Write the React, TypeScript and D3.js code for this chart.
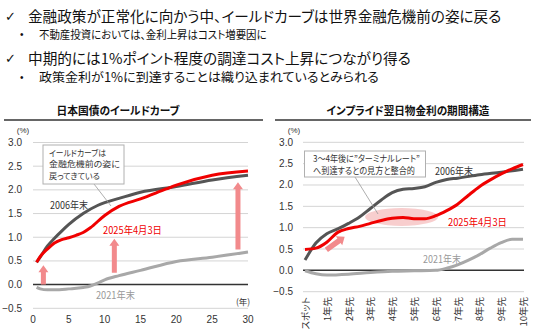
import React, { useLayoutEffect, useRef, useState } from 'react';
import * as d3 from 'd3';

// ---------- DATA ----------
const headerMain1 = '金融政策が正常化に向かう中、イールドカーブは世界金融危機前の姿に戻る';
const headerSub1 = '不動産投資においては、金利上昇はコスト増要因に';
const headerMain2 = '中期的には1%ポイント程度の調達コスト上昇につながり得る';
const headerSub2 = '政策金利が1%に到達することは織り込まれているとみられる';

const leftTitle = '日本国債のイールドカーブ';
const rightTitle = 'インプライド翌日物金利の期間構造';

const yTicks = [-0.5, 0, 0.5, 1.0, 1.5, 2.0, 2.5, 3.0];
const leftXTicks = [0, 5, 10, 15, 20, 25, 30];
const rightCategories = ['スポット', '1年先', '2年先', '3年先', '4年先', '5年先', '6年先', '7年先', '8年先', '9年先', '10年先'];

// JGB yield curve: [maturity (years), yield %]
const jgb2006: [number, number][] = [
  [0.5, 0.47], [1, 0.58], [2, 0.81], [3, 0.98], [4, 1.13], [5, 1.27], [7, 1.5], [9, 1.67], [10, 1.73],
  [12, 1.82], [15, 1.95], [20, 2.07], [25, 2.21], [30, 2.31],
];
const jgb2025: [number, number][] = [
  [0.5, 0.47], [1, 0.59], [2, 0.75], [3, 0.88], [4, 0.95], [5, 0.99], [6, 1.04], [7, 1.1], [8, 1.2],
  [10, 1.46], [12, 1.65], [15, 1.81], [18.6, 2.02], [20, 2.1], [25, 2.31], [30, 2.4],
];
const jgb2021: [number, number][] = [
  [0.5, -0.06], [1, -0.09], [2, -0.11], [3, -0.11], [5, -0.09], [7, -0.06], [8, -0.03], [9, 0.03],
  [10, 0.1], [12, 0.19], [15, 0.3], [20, 0.49], [25, 0.58], [30, 0.69],
];

// Implied overnight rate: [years forward, rate %]
const ois2006: [number, number][] = [
  [0, 0.24], [0.5, 0.64], [1, 0.86], [1.5, 0.97], [2, 1.1], [2.5, 1.25], [3, 1.45], [3.5, 1.65], [4, 1.82],
  [4.5, 1.9], [5, 1.92], [5.5, 1.96], [6, 2.06], [6.5, 2.13], [7, 2.16], [8, 2.24], [9, 2.3], [10, 2.37],
];
const ois2025: [number, number][] = [
  [0, 0.49], [0.5, 0.52], [1, 0.66], [1.5, 0.89], [2, 0.98], [2.5, 1.03], [3, 1.1], [3.5, 1.17], [4, 1.22],
  [4.5, 1.24], [5, 1.21], [5.5, 1.21], [6, 1.28], [6.5, 1.4], [7, 1.55], [7.5, 1.76], [8, 1.96],
  [8.5, 2.12], [9, 2.26], [9.5, 2.38], [10, 2.48],
];
const ois2021: [number, number][] = [
  [0, -0.01], [0.5, -0.08], [1, -0.11], [2, -0.09], [3, -0.05], [4, -0.02], [5, -0.01], [6, 0.0],
  [6.5, 0.05], [7, 0.13], [7.5, 0.24], [8, 0.37], [8.5, 0.52], [9, 0.65], [9.5, 0.73], [10, 0.73],
];

// annotation arrows (data units): x, from, to
const leftArrows = [
  { x: 1.45, from: 0.0, to: 0.41 },
  { x: 11.35, from: 0.25, to: 0.97 },
  { x: 28.6, from: 0.74, to: 2.16 },
];
const rightArrow = { x0: 0.98, y0: 0.48, x1: 1.82, y1: 0.79 };

const seriesLabels = { s2006: '2006年末', s2025: '2025年4月3日', s2021: '2021年末' };
const leftCallout = ['イールドカーブは', '金融危機前の姿に', '戻ってきている'];
const rightCallout = ['3～4年後に”ターミナルレート”', 'へ到達するとの見方と整合的'];

// ---------- STYLE ----------
const JP = '"Noto Sans CJK JP", "Noto Sans", sans-serif';
const NUM = '"Liberation Sans", Arial, sans-serif';
const C_DARK = '#555555';
const C_RED = '#f00000';
const C_LIGHT = '#a8a8a8';
const C_ARROW = '#f28a8c';
const C_GRID = '#d4d4d4';
const palt = { fontFeatureSettings: '"palt"' } as React.CSSProperties;

// text that is horizontally fitted to a measured width
function FitText(props: {
  x: number; y: number; width: number; size: number; fill?: string; weight?: string | number;
  anchor?: 'start' | 'middle'; children: string;
}) {
  const ref = useRef<SVGTextElement>(null);
  const [s, setS] = useState(1);
  useLayoutEffect(() => {
    const el = ref.current;
    if (el) {
      const w = el.getComputedTextLength();
      if (w > 0) setS(props.width / w);
    }
  }, [props.width, props.children]);
  return (
    <text
      ref={ref}
      transform={`translate(${props.x},${props.y}) scale(${s},1)`}
      fontFamily={JP}
      fontSize={props.size}
      fontWeight={props.weight || 'normal'}
      fill={props.fill || '#111'}
      textAnchor={props.anchor || 'start'}
      dominantBaseline="central"
      style={palt}
    >
      {props.children}
    </text>
  );
}

function arrowPath(x1: number, y1: number, x2: number, y2: number, sw = 5, hw = 10, hl = 7) {
  const dx = x2 - x1, dy = y2 - y1;
  const len = Math.hypot(dx, dy);
  const ux = dx / len, uy = dy / len;
  const nx = -uy, ny = ux;
  const bx = x2 - ux * hl, by = y2 - uy * hl;
  const p = [
    [x1 + nx * sw / 2, y1 + ny * sw / 2],
    [bx + nx * sw / 2, by + ny * sw / 2],
    [bx + nx * hw / 2, by + ny * hw / 2],
    [x2, y2],
    [bx - nx * hw / 2, by - ny * hw / 2],
    [bx - nx * sw / 2, by - ny * sw / 2],
    [x1 - nx * sw / 2, y1 - ny * sw / 2],
  ];
  return 'M' + p.map((q) => q.join(',')).join('L') + 'Z';
}

export default function App() {
  const xL = d3.scaleLinear().domain([0, 30]).range([33, 248]);
  const yL = d3.scaleLinear().domain([-0.5, 3]).range([308.3, 142.5]);
  const xR = d3.scaleLinear().domain([0, 10]).range([305, 523]);
  const xCat = d3.scalePoint<string>().domain(rightCategories).range([305, 523]);
  const yR = d3.scaleLinear().domain([-0.5, 3]).range([291.7, 142.3]);

  const lineL = d3.line<[number, number]>().x((d) => xL(d[0])).y((d) => yL(d[1])).curve(d3.curveMonotoneX);
  const lineR = d3.line<[number, number]>().x((d) => xR(d[0])).y((d) => yR(d[1])).curve(d3.curveMonotoneX);

  const fmt = d3.format('.1f');

  return (
    <svg width={536} height={330} style={{ position: 'absolute', left: 0, top: 0, background: '#fff' }}>
      {/* header */}
      <text x={5} y={16} fontSize={13} dominantBaseline="central" fontFamily={NUM} fill="#111">✓</text>
      <FitText x={28} y={16} width={474} size={14.5}>{headerMain1}</FitText>
      <text x={20} y={34} fontSize={10} dominantBaseline="central" fontFamily={NUM} fill="#111">•</text>
      <FitText x={39} y={34} width={228} size={11.5}>{headerSub1}</FitText>
      <text x={5} y={58} fontSize={13} dominantBaseline="central" fontFamily={NUM} fill="#111">✓</text>
      <FitText x={28} y={58} width={383} size={14.5}>{headerMain2}</FitText>
      <text x={20} y={77} fontSize={10} dominantBaseline="central" fontFamily={NUM} fill="#111">•</text>
      <FitText x={39} y={77} width={340} size={12.5}>{headerSub2}</FitText>

      {/* ===== LEFT CHART ===== */}
      <FitText x={118} y={110} width={123} size={11} weight="bold" anchor="middle">{leftTitle}</FitText>
      <line x1={4} x2={263} y1={120} y2={120} stroke="#333" strokeWidth={1.5} />
      <text x={23} y={130.5} fontFamily={NUM} fontSize={8} textAnchor="middle" dominantBaseline="central" fill="#333">(%)</text>
      {yTicks.map((t) => (
        <g key={'lg' + t}>
          <line x1={33} x2={248} y1={yL(t)} y2={yL(t)} stroke={t === 0 ? '#333' : C_GRID} strokeWidth={t === 0 ? 1.5 : 1} />
          <text x={22} y={yL(t)} fontFamily={NUM} fontSize={10} textAnchor="end" dominantBaseline="central" fill="#333">{fmt(t)}</text>
        </g>
      ))}
      {leftXTicks.map((t) => (
        <text key={'lx' + t} x={xL(t)} y={319} fontFamily={NUM} fontSize={10} textAnchor="middle" dominantBaseline="central" fill="#333">{t}</text>
      ))}
      <text x={243} y={300.5} fontFamily={JP} fontSize={8.5} textAnchor="middle" dominantBaseline="central" fill="#333">(年)</text>

      <path d={lineL(jgb2021) || ''} fill="none" stroke={C_LIGHT} strokeWidth={3} />
      <path d={lineL(jgb2006) || ''} fill="none" stroke={C_DARK} strokeWidth={3} />
      <path d={lineL(jgb2025) || ''} fill="none" stroke={C_RED} strokeWidth={3} />

      {leftArrows.map((a, i) => (
        <path key={'la' + i} d={arrowPath(xL(a.x), yL(a.from), xL(a.x), yL(a.to))} fill={C_ARROW} />
      ))}

      {/* left callout */}
      <line x1={94} y1={184} x2={111} y2={206} stroke="#999" strokeWidth={0.8} />
      <rect x={43} y={145} width={81} height={39} fill="#fff" stroke="#b0b0b0" strokeWidth={1} />
      <FitText x={49} y={152.8} width={57} size={8.5} fill="#333">{leftCallout[0]}</FitText>
      <FitText x={49} y={164} width={71} size={8.5} fill="#333">{leftCallout[1]}</FitText>
      <FitText x={49} y={175.2} width={51} size={8.5} fill="#333">{leftCallout[2]}</FitText>

      <FitText x={50} y={205} width={38} size={10.5} fill="#333">{seriesLabels.s2006}</FitText>
      <FitText x={103} y={229} width={59} size={10.5} fill={C_RED}>{seriesLabels.s2025}</FitText>
      <FitText x={96} y={295} width={39} size={10.5} fill="#999">{seriesLabels.s2021}</FitText>

      {/* ===== RIGHT CHART ===== */}
      <FitText x={408} y={110} width={163} size={11} weight="bold" anchor="middle">{rightTitle}</FitText>
      <line x1={275} x2={531} y1={120} y2={120} stroke="#333" strokeWidth={1.5} />
      <text x={294} y={130.5} fontFamily={NUM} fontSize={8} textAnchor="middle" dominantBaseline="central" fill="#333">(%)</text>
      {yTicks.map((t) => (
        <g key={'rg' + t}>
          <line x1={303} x2={524} y1={yR(t)} y2={yR(t)} stroke={t === 0 ? '#333' : C_GRID} strokeWidth={t === 0 ? 1.5 : 1} />
          <text x={293} y={yR(t)} fontFamily={NUM} fontSize={10} textAnchor="end" dominantBaseline="central" fill="#333">{fmt(t)}</text>
        </g>
      ))}
      {rightCategories.map((c) => (
        <text key={'rc' + c} transform={`translate(${xCat(c)},297) rotate(-90)`} fontFamily={JP} fontSize={9.5} textAnchor="end" dominantBaseline="central" fill="#333" style={palt}>{c}</text>
      ))}

      <ellipse cx={xR(4.43)} cy={yR(1.25)} rx={36.5} ry={9} fill="#f7c6c6" opacity={0.85} />
      <path d={lineR(ois2021) || ''} fill="none" stroke={C_LIGHT} strokeWidth={3} />
      <path d={lineR(ois2006) || ''} fill="none" stroke={C_DARK} strokeWidth={3} />
      <path d={lineR(ois2025) || ''} fill="none" stroke={C_RED} strokeWidth={3} />
      <path d={arrowPath(xR(rightArrow.x0), yR(rightArrow.y0), xR(rightArrow.x1), yR(rightArrow.y1), 5.5, 11, 7)} fill={C_ARROW} />

      {/* right callout */}
      <line x1={355} y1={177} x2={xR(3.35)} y2={yR(1.32)} stroke="#999" strokeWidth={0.8} />
      <rect x={304.5} y={151} width={121} height={26} fill="#fff" stroke="#b0b0b0" strokeWidth={1} />
      <FitText x={313} y={157.5} width={107} size={9} fill="#333">{rightCallout[0]}</FitText>
      <FitText x={313} y={170} width={102} size={9} fill="#333">{rightCallout[1]}</FitText>

      <FitText x={435} y={171} width={38} size={10.5} fill="#333">{seriesLabels.s2006}</FitText>
      <FitText x={448} y={221.5} width={59} size={10.5} fill={C_RED}>{seriesLabels.s2025}</FitText>
      <FitText x={423} y={259} width={38} size={10.5} fill="#999">{seriesLabels.s2021}</FitText>
    </svg>
  );
}
